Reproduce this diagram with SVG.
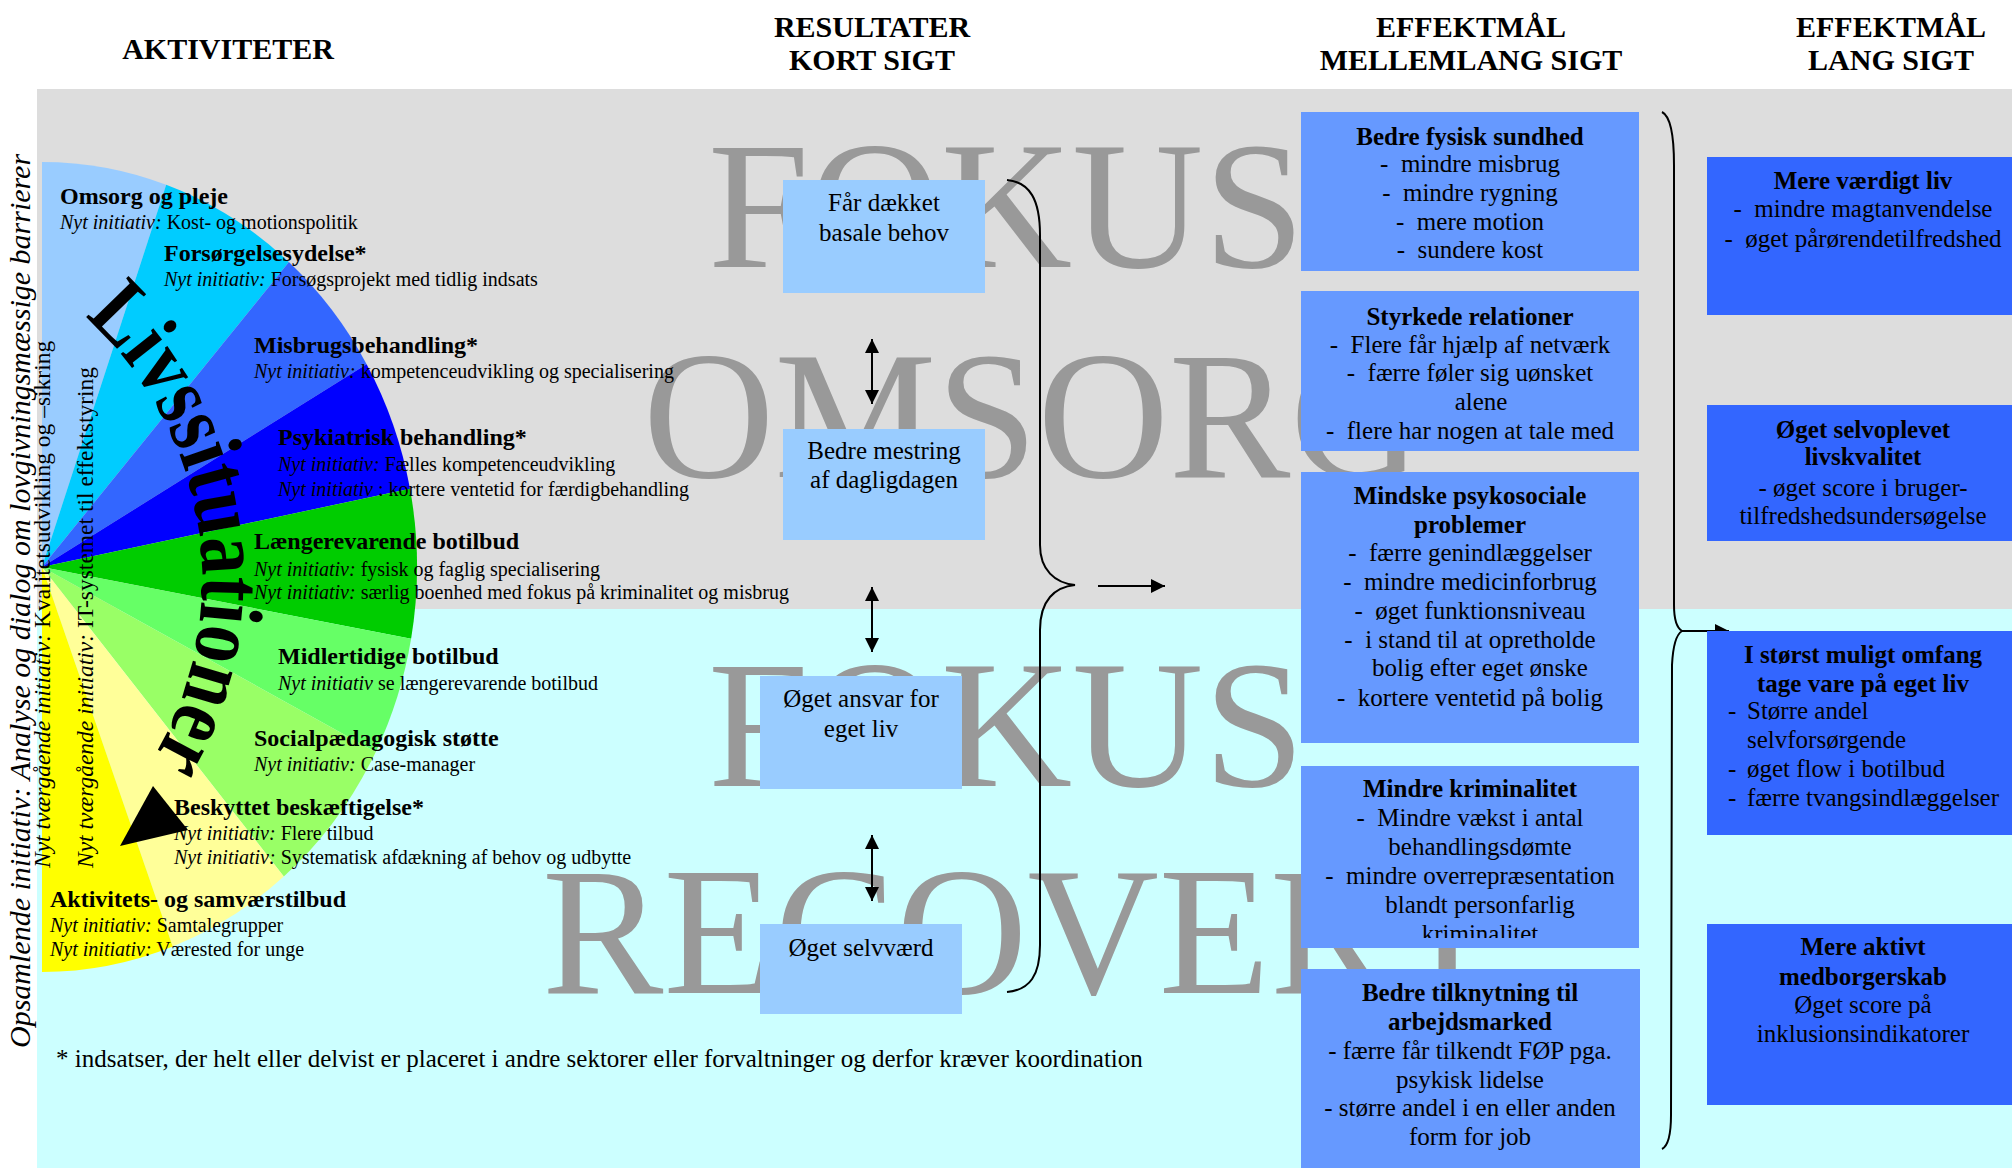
<svg xmlns="http://www.w3.org/2000/svg" xmlns:xlink="http://www.w3.org/1999/xlink" width="2012" height="1168" viewBox="0 0 2012 1168">
<style>
text{font-family:"Liberation Serif","Times New Roman",serif;fill:#000}
.h{font-size:30px;font-weight:bold;text-anchor:middle}
.wm{font-size:182px;fill:#999999}
.lb{font-size:24px;font-weight:bold}
.li{font-size:20px}
.i{font-style:italic}
.bx{font-size:25px;text-anchor:middle}
.bl{font-size:25px}
.b{font-weight:bold}
.ln{stroke:#000;stroke-width:2;fill:none}
.res{fill:#99CCFF}
.mid{fill:#6699FF}
.lng{fill:#3366FF}
.vt{font-size:23.5px}
</style>
<defs>
<marker id="ah" markerUnits="userSpaceOnUse" markerWidth="16" markerHeight="16" viewBox="0 0 16 16" refX="15" refY="8" orient="auto-start-reverse"><path d="M1,1 L15,8 L1,15 z" fill="#000"/></marker>
<path id="arcpath" d="M-29.6,248.2 A352,352 0 0,1 51.9,867.4"/>
<clipPath id="cM2"><rect x="1301" y="291" width="338" height="155"/></clipPath>
<clipPath id="cM4"><rect x="1301" y="766" width="338" height="172"/></clipPath>
</defs>

<g id="background">
<rect x="0" y="0" width="2012" height="1168" fill="#FFFFFF"/>
<rect x="37" y="89" width="1975" height="520" fill="#DDDDDD"/>
<rect x="37" y="609" width="1975" height="559" fill="#CCFFFF"/>
<text class="wm" x="708" y="267">FOKUS</text>
<text class="wm" x="643" y="477">OMSORG</text>
<text class="wm" x="708" y="786">FOKUS</text>
<text class="wm" x="542" y="993">RECOVERY</text>
</g>

<g id="headers">
<text class="h" x="228" y="59">AKTIVITETER</text>
<text class="h" x="872" y="37">RESULTATER</text>
<text class="h" x="872" y="70">KORT SIGT</text>
<text class="h" x="1471" y="37">EFFEKTMÅL</text>
<text class="h" x="1471" y="70">MELLEMLANG SIGT</text>
<text class="h" x="1891" y="37">EFFEKTMÅL</text>
<text class="h" x="1891" y="70">LANG SIGT</text>
</g>

<g id="activities-fan">
<path d="M42,567 L42,162 A375,405 0 0 1 166.2,184.8 Z" fill="#99CCFF"/>
<path d="M42,567 L166.2,184.8 A375,405 0 0 1 288.9,262.1 Z" fill="#00CCFF"/>
<path d="M42,567 L288.9,262.1 A375,405 0 0 1 366.6,364.2 Z" fill="#3366FF"/>
<path d="M42,567 L366.6,364.2 A375,405 0 0 1 410,488.8 Z" fill="#0000FF"/>
<path d="M42,567 L410,488.8 A375,405 0 0 1 411.1,638.7 Z" fill="#00CC00"/>
<path d="M42,567 L411.1,638.7 A375,405 0 0 1 375.7,751.9 Z" fill="#66FF66"/>
<path d="M42,567 L375.7,751.9 A375,405 0 0 1 283.8,876.5 Z" fill="#99FF66"/>
<path d="M42,567 L283.8,876.5 A375,405 0 0 1 172.7,946.5 Z" fill="#FFFF99"/>
<path d="M42,567 L172.7,946.5 A375,405 0 0 1 42,972 Z" fill="#FFFF00"/>
</g>

<g id="act-omsorg">
<text class="lb" x="60" y="204">Omsorg og pleje</text>
<text class="li" x="60" y="229"><tspan class="i">Nyt initiativ:</tspan> Kost- og motionspolitik</text>
</g>
<g id="act-forsorgelse">
<text class="lb" x="164" y="261">Forsørgelsesydelse*</text>
<text class="li" x="164" y="286"><tspan class="i">Nyt initiativ:</tspan> Forsøgsprojekt med tidlig indsats</text>
</g>
<g id="act-misbrug">
<text class="lb" x="254" y="353">Misbrugsbehandling*</text>
<text class="li" x="254" y="378"><tspan class="i">Nyt initiativ:</tspan> kompetenceudvikling og specialisering</text>
</g>
<g id="act-psykiatri">
<text class="lb" x="278" y="445">Psykiatrisk behandling*</text>
<text class="li" x="278" y="471"><tspan class="i">Nyt initiativ:</tspan> Fælles kompetenceudvikling</text>
<text class="li" x="278" y="496"><tspan class="i">Nyt initiativ</tspan> : kortere ventetid for færdigbehandling</text>
</g>
<g id="act-laengere">
<text class="lb" x="254" y="549">Længerevarende botilbud</text>
<text class="li" x="254" y="576"><tspan class="i">Nyt initiativ:</tspan> fysisk og faglig specialisering</text>
<text class="li" x="254" y="599"><tspan class="i">Nyt initiativ:</tspan> særlig boenhed med fokus på kriminalitet og misbrug</text>
</g>
<g id="act-midlertidige">
<text class="lb" x="278" y="664">Midlertidige botilbud</text>
<text class="li" x="278" y="690"><tspan class="i">Nyt initiativ</tspan> se længerevarende botilbud</text>
</g>
<g id="act-socialpaed">
<text class="lb" x="254" y="746">Socialpædagogisk støtte</text>
<text class="li" x="254" y="771"><tspan class="i">Nyt initiativ:</tspan> Case-manager</text>
</g>
<g id="act-beskyttet">
<text class="lb" x="174" y="815">Beskyttet beskæftigelse*</text>
<text class="li" x="174" y="840"><tspan class="i">Nyt initiativ:</tspan> Flere tilbud</text>
<text class="li" x="174" y="864"><tspan class="i">Nyt initiativ:</tspan> Systematisk afdækning af behov og udbytte</text>
</g>
<g id="act-aktivitet">
<text class="lb" x="50" y="907">Aktivitets- og samværstilbud</text>
<text class="li" x="50" y="932"><tspan class="i">Nyt initiativ:</tspan> Samtalegrupper</text>
<text class="li" x="50" y="956"><tspan class="i">Nyt initiativ:</tspan> Værested for unge</text>
</g>

<g id="livssituationer">
<text style="font-size:90px;font-weight:bold"><textPath href="#arcpath" xlink:href="#arcpath" startOffset="134" textLength="485" lengthAdjust="spacingAndGlyphs">Livssituationer</textPath></text>
<polygon points="153,786 120,846 188,830" fill="#000"/>
</g>

<g id="cross-initiatives">
<text class="i" style="font-size:30px" transform="translate(30,1048) rotate(-90)">Opsamlende initiativ: Analyse og dialog om lovgivningsmæssige barrierer</text>
<text class="vt" transform="translate(50,868) rotate(-90)"><tspan class="i">Nyt tværgående initiativ:</tspan> Kvalitetsudvikling og –sikring</text>
<text class="vt" transform="translate(93,868) rotate(-90)"><tspan class="i">Nyt tværgående initiativ:</tspan> IT-systemet til effektstyring</text>
</g>

<g id="footnote">
<text class="bl" x="56" y="1067">* indsatser, der helt eller delvist er placeret i andre sektorer eller forvaltninger og derfor kræver koordination</text>
</g>

<g id="res-basale">
<rect class="res" x="783" y="180" width="202" height="113"/>
<text class="bx" x="884" y="211">Får dækket</text>
<text class="bx" x="884" y="241">basale behov</text>
</g>
<g id="res-mestring">
<rect class="res" x="783" y="429" width="202" height="111"/>
<text class="bx" x="884" y="459">Bedre mestring</text>
<text class="bx" x="884" y="488">af dagligdagen</text>
</g>
<g id="res-ansvar">
<rect class="res" x="760" y="676" width="202" height="113"/>
<text class="bx" x="861" y="707">Øget ansvar for</text>
<text class="bx" x="861" y="737">eget liv</text>
</g>
<g id="res-selvvaerd">
<rect class="res" x="760" y="924" width="202" height="90"/>
<text class="bx" x="861" y="956">Øget selvværd</text>
</g>

<g id="connectors">
<line class="ln" x1="872" y1="339" x2="872" y2="404" marker-start="url(#ah)" marker-end="url(#ah)"/>
<line class="ln" x1="872" y1="587" x2="872" y2="652" marker-start="url(#ah)" marker-end="url(#ah)"/>
<line class="ln" x1="872" y1="835" x2="872" y2="901" marker-start="url(#ah)" marker-end="url(#ah)"/>
<path class="ln" d="M1007,180 C1030,182 1040,200 1040,235 L1040,545 C1040,570 1055,583 1075,585 C1055,587 1040,600 1040,630 L1040,945 C1040,975 1030,990 1007,992"/>
<line class="ln" x1="1098" y1="586" x2="1165" y2="586" marker-end="url(#ah)"/>
<path class="ln" d="M1662,112 C1670,116 1674,135 1674,165 L1674,605 C1674,620 1677,628 1682,631 C1677,634 1673,645 1672,665 L1671,1115 C1671,1135 1668,1146 1662,1149"/>
<line class="ln" x1="1682" y1="631" x2="1729" y2="631" marker-end="url(#ah)"/>
</g>

<g id="mid-fysisk">
<rect class="mid" x="1301" y="112" width="338" height="159"/>
<text class="bx b" x="1470" y="145">Bedre fysisk sundhed</text>
<text class="bx" x="1470" y="172">-&#160;&#160;mindre misbrug</text>
<text class="bx" x="1470" y="201">-&#160;&#160;mindre rygning</text>
<text class="bx" x="1470" y="230">-&#160;&#160;mere motion</text>
<text class="bx" x="1470" y="258">-&#160;&#160;sundere kost</text>
</g>
<g id="mid-relationer">
<rect class="mid" x="1301" y="291" width="338" height="160"/>
<g clip-path="url(#cM2)">
<text class="bx b" x="1470" y="325">Styrkede relationer</text>
<text class="bx" x="1470" y="353">-&#160;&#160;Flere får hjælp af netværk</text>
<text class="bx" x="1470" y="381">-&#160;&#160;færre føler sig uønsket</text>
<text class="bx" x="1481" y="410">alene</text>
<text class="bx" x="1470" y="439">-&#160;&#160;flere har nogen at tale med</text>
</g>
</g>
<g id="mid-psykosociale">
<rect class="mid" x="1301" y="472" width="338" height="271"/>
<text class="bx b" x="1470" y="504">Mindske psykosociale</text>
<text class="bx b" x="1470" y="533">problemer</text>
<text class="bx" x="1470" y="561">-&#160;&#160;færre genindlæggelser</text>
<text class="bx" x="1470" y="590">-&#160;&#160;mindre medicinforbrug</text>
<text class="bx" x="1470" y="619">-&#160;&#160;øget funktionsniveau</text>
<text class="bx" x="1470" y="648">-&#160;&#160;i stand til at opretholde</text>
<text class="bx" x="1480" y="676">bolig efter eget ønske</text>
<text class="bx" x="1470" y="706">-&#160;&#160;kortere ventetid på bolig</text>
</g>
<g id="mid-kriminalitet">
<rect class="mid" x="1301" y="766" width="338" height="182"/>
<g clip-path="url(#cM4)">
<text class="bx b" x="1470" y="797">Mindre kriminalitet</text>
<text class="bx" x="1470" y="826">-&#160;&#160;Mindre vækst i antal</text>
<text class="bx" x="1480" y="855">behandlingsdømte</text>
<text class="bx" x="1470" y="884">-&#160;&#160;mindre overrepræsentation</text>
<text class="bx" x="1480" y="913">blandt personfarlig</text>
<text class="bx" x="1480" y="942">kriminalitet</text>
</g>
</g>
<g id="mid-arbejdsmarked">
<rect class="mid" x="1301" y="969" width="339" height="199"/>
<text class="bx b" x="1470" y="1001">Bedre tilknytning til</text>
<text class="bx b" x="1470" y="1030">arbejdsmarked</text>
<text class="bx" x="1470" y="1059">- færre får tilkendt FØP pga.</text>
<text class="bx" x="1470" y="1088">psykisk lidelse</text>
<text class="bx" x="1470" y="1116">- større andel i en eller anden</text>
<text class="bx" x="1470" y="1145">form for job</text>
</g>

<g id="long-vaerdigt">
<rect class="lng" x="1707" y="157" width="312" height="158"/>
<text class="bx b" x="1863" y="189">Mere værdigt liv</text>
<text class="bx" x="1863" y="217">-&#160;&#160;mindre magtanvendelse</text>
<text class="bx" x="1863" y="247">-&#160;&#160;øget pårørendetilfredshed</text>
</g>
<g id="long-livskvalitet">
<rect class="lng" x="1707" y="405" width="312" height="136"/>
<text class="bx b" x="1863" y="438">Øget selvoplevet</text>
<text class="bx b" x="1863" y="465">livskvalitet</text>
<text class="bx" x="1863" y="496">- øget score i bruger-</text>
<text class="bx" x="1863" y="524">tilfredshedsundersøgelse</text>
</g>
<g id="long-eget-liv">
<rect class="lng" x="1707" y="631" width="312" height="204"/>
<text class="bx b" x="1863" y="663">I størst muligt omfang</text>
<text class="bx b" x="1863" y="692">tage vare på eget liv</text>
<text class="bl" x="1728" y="719">-<tspan x="1747">Større andel</tspan></text>
<text class="bl" x="1747" y="748">selvforsørgende</text>
<text class="bl" x="1728" y="777">-<tspan x="1747">øget flow i botilbud</tspan></text>
<text class="bl" x="1728" y="806">-<tspan x="1747">færre tvangsindlæggelser</tspan></text>
</g>
<g id="long-medborgerskab">
<rect class="lng" x="1707" y="924" width="312" height="181"/>
<text class="bx b" x="1863" y="955">Mere aktivt</text>
<text class="bx b" x="1863" y="985">medborgerskab</text>
<text class="bx" x="1863" y="1013">Øget score på</text>
<text class="bx" x="1863" y="1042">inklusionsindikatorer</text>
</g>
</svg>
